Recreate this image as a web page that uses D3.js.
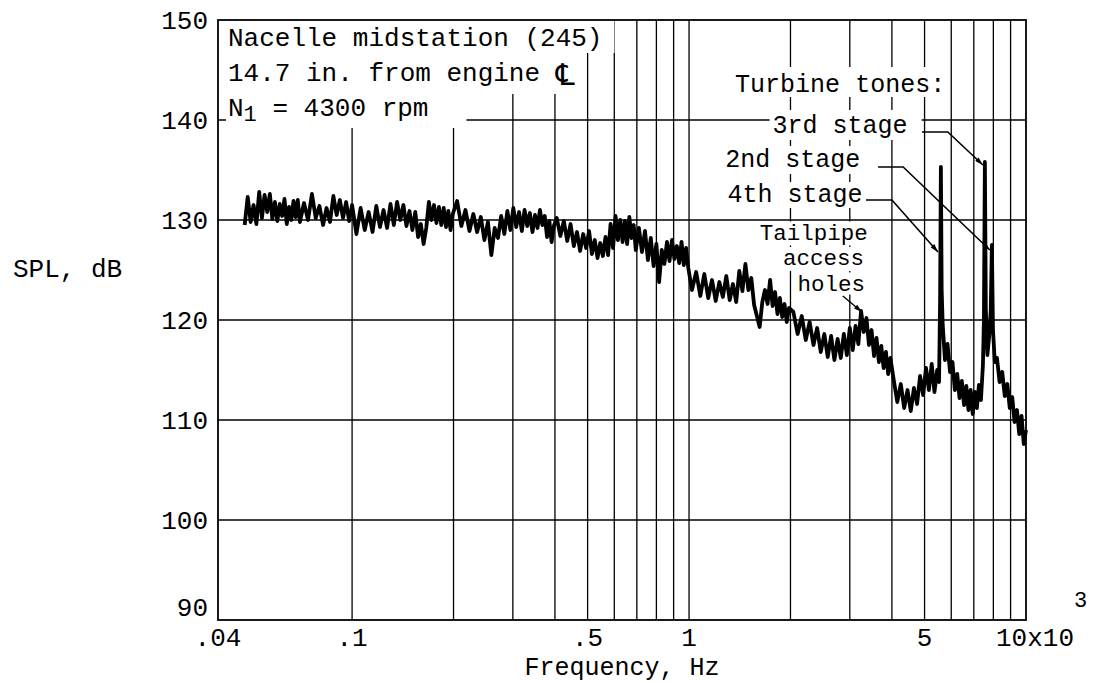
<!DOCTYPE html>
<html>
<head>
<meta charset="utf-8">
<script src="https://cdn.jsdelivr.net/npm/d3@7"></script>
<style>
  body { margin: 0; background: #fff; }
  svg text { font-family: "Liberation Mono", "Courier New", monospace; fill: #000; }
</style>
</head>
<body>
<svg id="chart" width="1114" height="683"></svg>
<script>
const freq = [
  0.048,0.049,0.050,0.051,0.052,0.053,0.054,0.055,0.056,0.057,0.058,0.059,0.060,0.061,0.062,0.063,0.064,0.065,0.066,0.067,0.068,0.069,0.070,
  0.072,0.074,0.076,0.078,0.080,0.082,0.084,0.086,0.088,0.090,0.092,0.094,0.096,0.098,0.100,
  0.103,0.106,0.109,0.112,0.115,0.118,0.121,0.124,0.127,0.130,0.133,0.136,0.139,0.142,0.145,0.148,0.151,0.154,0.157,0.160,0.163,0.166,0.169,0.172,0.175,0.178,0.181,0.184,0.187,0.190,0.193,0.196,0.199,
  0.205,0.211,0.217,0.223,0.229,0.235,0.241,0.247,0.253,0.259,0.265,0.271,0.277,0.283,0.289,0.295,0.301,0.307,0.313,0.319,0.325,0.331,0.337,0.343,0.349,0.355,0.361,0.367,0.373,0.379,0.385,0.391,0.397,
  0.405,0.415,0.425,0.435,0.445,0.455,0.465,0.475,0.485,0.495,0.505,0.515,0.525,0.535,0.545,0.555,0.565,0.575,0.585,0.595,0.605,0.615,0.625,0.635,0.645,0.655,0.665,0.675,0.685,0.695,
  0.710,0.725,0.740,0.755,0.770,0.785,0.800,0.815,0.830,0.845,0.860,0.875,0.890,0.905,0.920,0.935,0.950,0.965,0.980,0.995,
  1.02,1.05,1.08,1.11,1.14,1.17,1.20,1.23,1.26,1.29,1.32,1.35,1.38,1.41,1.44,1.47,1.50,1.53,1.56,1.59,1.62,1.65,1.68,1.71,1.74,1.77,1.80,1.83,1.86,1.89,1.92,1.95,1.98,
  2.04,2.10,2.16,2.22,2.28,2.34,2.40,2.46,2.52,2.58,2.64,2.70,2.76,2.82,2.88,2.94,3.00,3.06,3.12,3.18,3.24,3.30,3.36,3.42,3.48,3.54,3.60,3.66,3.72,3.78,3.84,3.90,3.96,
  4.05,4.15,4.25,4.35,4.45,4.55,4.65,4.75,4.85,4.95,5.05,5.15,5.25,5.35,5.45,5.52,5.56,5.59,5.62,5.66,5.75,5.85,5.95,6.05,6.15,6.25,6.35,6.45,6.55,6.65,6.75,6.85,6.95,
  7.05,7.15,7.25,7.35,7.45,7.50,7.55,7.60,7.68,7.78,7.86,7.92,7.98,8.08,8.20,8.35,8.50,8.65,8.80,8.95,9.10,9.25,9.40,9.55,9.70,9.85,10.0
];
const spl = [
  129.5,132.3,129.8,131.5,129.6,132.8,130.2,132.5,130.8,132.6,130.1,131.8,129.9,131.6,130.4,132.1,129.6,131.3,130.0,131.9,130.3,132.0,129.8,
  131.7,130.0,132.6,130.2,131.4,129.5,131.2,129.8,132.4,130.5,132.0,130.2,131.8,129.9,131.5,
  128.6,131.2,129.0,130.8,128.8,131.4,129.3,131.0,129.2,131.6,129.5,131.8,130.0,131.5,129.4,130.9,129.0,130.8,128.3,129.6,127.6,129.2,131.8,130.0,131.5,129.7,131.3,129.5,131.2,129.3,130.9,129.0,130.6,
  131.9,129.4,131.0,128.9,130.6,128.8,130.3,128.0,129.8,126.5,129.2,128.2,130.4,128.6,130.9,129.0,131.2,129.3,130.8,128.9,131.0,129.4,130.7,128.8,130.5,129.2,131.0,129.5,130.4,128.3,129.9,127.8,129.4,
  130.2,128.4,129.9,127.9,129.6,127.4,128.8,126.9,128.6,127.2,128.9,126.6,128.0,126.2,127.7,126.4,128.3,126.5,129.6,127.2,130.4,128.0,130.0,127.8,129.9,127.6,130.3,128.2,129.5,127.0,
  129.2,126.8,128.9,126.0,128.2,125.4,127.6,123.8,127.0,125.6,127.8,125.9,128.0,126.1,127.4,125.7,127.8,125.5,127.2,125.2,
  123.0,124.8,122.4,124.6,122.2,124.0,121.9,123.8,122.3,124.4,122.0,123.6,121.8,124.9,122.9,125.6,123.0,124.2,121.5,120.4,119.3,121.8,123.0,121.6,124.0,121.4,122.8,120.6,122.2,120.3,121.6,119.8,121.2,
  120.8,118.6,120.4,118.0,119.8,117.5,119.2,116.8,118.6,116.3,118.4,116.0,118.1,116.2,118.6,116.5,119.2,117.0,119.4,117.6,120.9,118.8,120.2,117.5,119.0,116.4,118.2,115.8,117.4,115.2,116.8,114.6,116.2,
  114.0,111.8,113.6,111.2,113.0,110.9,113.2,111.6,114.4,112.5,115.2,113.0,115.6,112.8,115.0,113.8,122.0,135.3,123.0,119.5,116.0,117.6,114.8,115.8,113.0,114.6,112.2,113.9,111.5,113.4,111.0,113.0,110.6,
  112.8,111.2,113.5,112.0,115.5,120.0,135.8,121.0,116.5,118.5,121.0,127.5,119.0,115.8,116.2,113.8,114.8,112.4,113.6,111.2,112.3,109.8,111.0,108.6,110.4,107.6,109.0
];

// Axes and grid
const yTickVals = [90, 100, 110, 120, 130, 140, 150];
const yGridVals = [100, 110, 120, 130, 140];
const xGridVals = [0.1,0.2,0.3,0.4,0.5,0.6,0.7,0.8,0.9,1,2,3,4,5,6,7,8,9];
const xTickVals = [0.04, 0.1, 0.5, 1, 5];
const xTickText = ['.04', '.1', '.5', '1', '5'];

// Annotation text
const infoLines = ['Nacelle midstation (245)', '14.7 in. from engine ', ' = 4300 rpm'];
const toneTitle = 'Turbine tones:';
const toneLabels = ['3rd stage', '2nd stage', '4th stage'];
const tailLabel = ['Tailpipe', 'access', 'holes'];

const W = 1114, H = 683;
const x = d3.scaleLog().domain([0.04, 10]).range([218, 1026]);
const y = d3.scaleLinear().domain([90, 150]).range([620, 20]);

const svg = d3.select('#chart');
svg.append('rect').attr('width', W).attr('height', H).attr('fill', '#fff');

// grid lines
const grid = svg.append('g').attr('stroke', '#000').attr('stroke-width', 1.3);
grid.selectAll('.vg').data(xGridVals).enter().append('line')
  .attr('x1', d => x(d)).attr('x2', d => x(d))
  .attr('y1', y(150)).attr('y2', y(90));
grid.selectAll('.hg').data(yGridVals).enter().append('line')
  .attr('x1', x(0.04)).attr('x2', x(10))
  .attr('y1', d => y(d)).attr('y2', d => y(d));

const bgLayer = svg.append('g');
const traceLayer = svg.append('g');
const noteLayer = svg.append('g');
const textLayer = svg.append('g');

// put a white patch under a text so grid lines break round it
function patch(node, pad) {
  const b = node.getBBox();
  bgLayer.append('rect')
    .attr('x', b.x - pad[0]).attr('y', b.y - pad[2])
    .attr('width', b.width + pad[0] + pad[1])
    .attr('height', b.height + pad[2] + pad[3])
    .attr('fill', '#fff');
}

// spectrum trace
const line = d3.line().x(d => x(d[0])).y(d => y(d[1]));
traceLayer.append('path')
  .datum(freq.map((f, i) => [f, spl[i]]))
  .attr('d', line)
  .attr('fill', 'none')
  .attr('stroke', '#000')
  .attr('stroke-width', 3.8)
  .attr('stroke-linejoin', 'round');

// info block, top left
const t1 = textLayer.append('text').attr('x', 228).attr('y', 46)
  .attr('font-size', 26).text(infoLines[0]);
patch(t1.node(), [9, 12, 4, -1]);
const t2 = textLayer.append('text').attr('x', 228).attr('y', 81)
  .attr('font-size', 26).text(infoLines[1]);
t2.append('tspan').attr('font-family', 'DejaVu Sans').attr('font-size', 30).attr('dy', 4).text('\u2104');
patch(t2.node(), [9, 8, 6, 2]);
const t3 = textLayer.append('text').attr('x', 228).attr('y', 116).attr('font-size', 26);
t3.append('tspan').text('N');
t3.append('tspan').attr('dy', 5).attr('font-size', 22).text('1');
t3.append('tspan').attr('dy', -5).text(infoLines[2]);
patch(t3.node(), [2, 38, 3, 0]);

// turbine tone labels with leaders
const notes = [
  { label: toneLabels[0], at: [1.77, 138.7], path: [[4.91, 138.8], [5.86, 138.8], [7.45, 135.5]], pad: [3, 14, 2, -1] },
  { label: toneLabels[1], at: [1.28, 135.3], path: [[3.64, 135.3], [4.32, 135.3], [7.81, 127.0]], pad: [3, 12, 0, -1] },
  { label: toneLabels[2], at: [1.30, 131.8], path: [[3.35, 132.0], [4.0, 132.0], [5.48, 126.8]], pad: [3, 10, -1, -2] }
];

svg.append('defs').append('marker')
  .attr('id', 'arr').attr('viewBox', '0 0 10 6')
  .attr('refX', 10).attr('refY', 3)
  .attr('markerWidth', 10).attr('markerHeight', 5)
  .attr('markerUnits', 'userSpaceOnUse')
  .attr('orient', 'auto')
  .append('path').attr('d', 'M0,0L10,3L0,6Z').attr('fill', '#000');

const tt = textLayer.append('text').attr('x', x(1.37)).attr('y', y(142.8))
  .attr('font-size', 25).text(toneTitle);
patch(tt.node(), [3, 3, 4, -3]);

notes.forEach(n => {
  const t = textLayer.append('text')
    .attr('x', x(n.at[0])).attr('y', y(n.at[1]))
    .attr('font-size', 25).text(n.label);
  patch(t.node(), n.pad);
  noteLayer.append('path')
    .attr('d', line(n.path))
    .attr('fill', 'none').attr('stroke', '#000').attr('stroke-width', 1.6)
    .attr('marker-end', 'url(#arr)');
});

// tailpipe access holes
const tailPos = [[1.62, 128.05], [1.90, 125.5], [2.10, 122.95]];
tailLabel.forEach((s, i) => {
  const t = textLayer.append('text')
    .attr('x', x(tailPos[i][0])).attr('y', y(tailPos[i][1]))
    .attr('font-size', 22.5).text(s);
  patch(t.node(), [2, 2, -1, i === 2 ? -3 : -1]);
});
noteLayer.append('path')
  .attr('d', line([[2.86, 122.4], [3.26, 120.8]]))
  .attr('fill', 'none').attr('stroke', '#000').attr('stroke-width', 1.4)
  .attr('marker-end', 'url(#arr)');

// frame
svg.append('rect')
  .attr('x', x(0.04)).attr('y', y(150))
  .attr('width', x(10) - x(0.04)).attr('height', y(90) - y(150))
  .attr('fill', 'none').attr('stroke', '#000').attr('stroke-width', 1.8);

// y tick labels
svg.append('g').selectAll('text').data(yTickVals).enter().append('text')
  .attr('x', 208).attr('y', d => y(d) + (d === 90 ? -4 : 9))
  .attr('text-anchor', 'end').attr('font-size', 26)
  .text(d => d);

// x tick labels
svg.append('g').selectAll('text').data(xTickVals).enter().append('text')
  .attr('x', (d, i) => x(d))
  .attr('y', 646)
  .attr('text-anchor', 'middle').attr('font-size', 26)
  .text((d, i) => xTickText[i]);
const last = svg.append('text').attr('x', x(10) - 30).attr('y', 646).attr('font-size', 26);
last.append('tspan').text('10x10');
last.append('tspan').attr('dy', -39).attr('font-size', 22).text('3');

// axis titles
svg.append('text').attr('x', x(1) - 67).attr('y', 675)
  .attr('text-anchor', 'middle').attr('font-size', 25).text('Frequency, Hz');
svg.append('text').attr('x', 13).attr('y', 277)
  .attr('font-size', 26).text('SPL, dB');
</script>
</body>
</html>
